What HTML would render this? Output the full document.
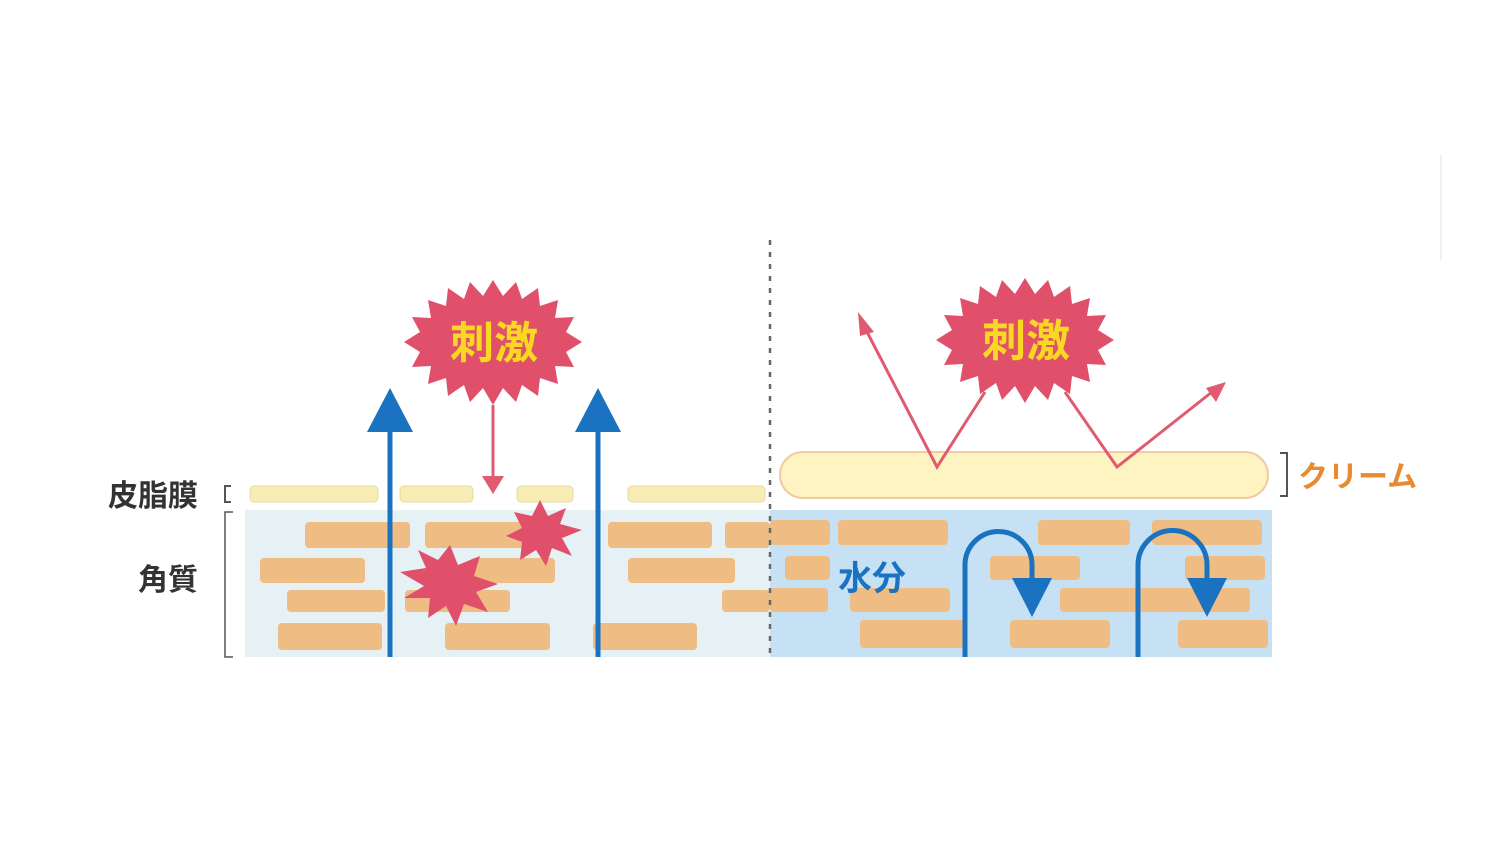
<!DOCTYPE html>
<html><head><meta charset="utf-8"><style>
html,body{margin:0;padding:0;background:#fff;}
svg{display:block;}
text{font-family:"Liberation Sans","Noto Sans CJK JP",sans-serif;font-weight:bold;}
</style></head><body>
<svg width="1500" height="857" viewBox="0 0 1500 857" xmlns="http://www.w3.org/2000/svg">
<line x1="1441" y1="155" x2="1441" y2="260" stroke="#f0f0f0" stroke-width="2"/>
<rect x="245" y="510" width="525" height="147" fill="#e6f1f6"/>
<rect x="770" y="510" width="502" height="147" fill="#c6e1f3"/>
<g fill="#f6ecb4" stroke="#ead9a0" stroke-width="1">
<rect x="250" y="486" width="128" height="16" rx="4"/>
<rect x="400" y="486" width="73" height="16" rx="4"/>
<rect x="517" y="486" width="56" height="16" rx="4"/>
<rect x="628" y="486" width="137" height="16" rx="4"/>
</g>
<rect x="780" y="452" width="488" height="46" rx="23" fill="#fdf4c2" stroke="#f2c9a0" stroke-width="2"/>
<g fill="#efbd84">
<rect x="305" y="522" width="105" height="26" rx="4"/>
<rect x="425" y="522" width="100" height="26" rx="4"/>
<rect x="608" y="522" width="104" height="26" rx="4"/>
<rect x="725" y="522" width="45" height="26" rx="4"/>
<rect x="260" y="558" width="105" height="25" rx="4"/>
<rect x="470" y="558" width="85" height="25" rx="4"/>
<rect x="628" y="558" width="107" height="25" rx="4"/>
<rect x="287" y="590" width="98" height="22" rx="4"/>
<rect x="405" y="590" width="105" height="22" rx="4"/>
<rect x="722" y="590" width="48" height="22" rx="4"/>
<rect x="278" y="623" width="104" height="27" rx="4"/>
<rect x="445" y="623" width="105" height="27" rx="4"/>
<rect x="593" y="623" width="104" height="27" rx="4"/>
<rect x="770" y="520" width="60" height="25" rx="4"/>
<rect x="838" y="520" width="110" height="25" rx="4"/>
<rect x="1038" y="520" width="92" height="25" rx="4"/>
<rect x="1152" y="520" width="110" height="25" rx="4"/>
<rect x="785" y="556" width="45" height="24" rx="4"/>
<rect x="990" y="556" width="90" height="24" rx="4"/>
<rect x="1185" y="556" width="80" height="24" rx="4"/>
<rect x="770" y="588" width="58" height="24" rx="4"/>
<rect x="850" y="588" width="100" height="24" rx="4"/>
<rect x="1060" y="588" width="190" height="24" rx="4"/>
<rect x="860" y="620" width="105" height="28" rx="4"/>
<rect x="1010" y="620" width="100" height="28" rx="4"/>
<rect x="1178" y="620" width="90" height="28" rx="4"/>
</g>
<line x1="770" y1="240" x2="770" y2="657" stroke="#666" stroke-width="2.5" stroke-dasharray="5,7"/>
<g fill="#e0506a">
<polygon points="540,500 548,516 566,508 560,524 582,530 562,538 572,556 552,548 546,566 536,550 520,560 522,542 506,536 522,528 514,512 532,516"/>
<polygon points="450,545 458,565 480,556 474,576 498,584 476,592 488,612 464,604 456,626 446,606 428,618 430,598 404,598 424,586 400,572 426,568 418,550 438,560"/>
</g>
<polygon fill="#e0506a" points="
493,280 503,296 516,282 522,299 538,288 540,306 558,300 555,318 574,317 566,332 582,342 566,352 574,367 555,366 558,384 540,378 538,396 522,385 516,402 503,388 493,405 483,388 470,402 464,385 448,396 446,378 428,384 431,366 412,367 420,352 404,342 420,332 412,317 431,318 428,300 446,306 448,288 464,299 470,282 483,296"/>
<polygon fill="#e0506a" transform="translate(532,-2)" points="
493,280 503,296 516,282 522,299 538,288 540,306 558,300 555,318 574,317 566,332 582,342 566,352 574,367 555,366 558,384 540,378 538,396 522,385 516,402 503,388 493,405 483,388 470,402 464,385 448,396 446,378 428,384 431,366 412,367 420,352 404,342 420,332 412,317 431,318 428,300 446,306 448,288 464,299 470,282 483,296"/>
<text x="494" y="358" font-size="44" fill="#f8d820" text-anchor="middle">刺激</text>
<text x="1026" y="356" font-size="44" fill="#f8d820" text-anchor="middle">刺激</text>
<line x1="493" y1="405" x2="493" y2="480" stroke="#e05a70" stroke-width="3"/>
<polygon points="482,476 504,476 493,494" fill="#e05a70"/>
<polyline points="866,330 937,467 985,392" fill="none" stroke="#e05a70" stroke-width="3"/>
<polygon points="858,312 874,332 860,336" fill="#e05a70"/>
<polyline points="1065,392 1117,467 1212,392" fill="none" stroke="#e05a70" stroke-width="3"/>
<polygon points="1226,382 1216,402 1206,388" fill="#e05a70"/>
<g fill="#1a72c0" stroke="#1a72c0">
<line x1="390" y1="657" x2="390" y2="425" stroke-width="5"/>
<polygon points="390,388 413,432 367,432" stroke="none"/>
<line x1="598" y1="657" x2="598" y2="425" stroke-width="5"/>
<polygon points="598,388 621,432 575,432" stroke="none"/>
</g>
<g fill="none" stroke="#1a72c0" stroke-width="5">
<path d="M965,657 V565 A33.5,33.5 0 0 1 1032,565 V585"/>
<path d="M1138,657 V565 A34.5,34.5 0 0 1 1207,565 V585"/>
</g>
<polygon points="1012,578 1052,578 1032,617" fill="#1a72c0"/>
<polygon points="1187,578 1227,578 1207,617" fill="#1a72c0"/>
<text x="838" y="590" font-size="34" fill="#1a72c0">水分</text>
<text x="108" y="506" font-size="30" fill="#333">皮脂膜</text>
<text x="138" y="590" font-size="30" fill="#333">角質</text>
<path d="M231,486 H225 V502 H231" fill="none" stroke="#555" stroke-width="2"/>
<path d="M233,512 H225 V657 H233" fill="none" stroke="#555" stroke-width="1.5"/>
<path d="M1280,453 H1287 V496 H1280" fill="none" stroke="#555" stroke-width="2"/>
<text x="1298" y="487" font-size="30" fill="#e88a30">クリーム</text>
</svg>
</body></html>
